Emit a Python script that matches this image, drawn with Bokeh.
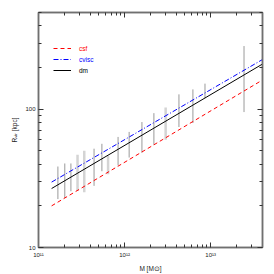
from bokeh.plotting import figure
from bokeh.models import LogAxis, FixedTicker, Legend, LegendItem, Range1d
from bokeh.embed import file_html
from bokeh.resources import INLINE

# ---- data ----
# error bars (dark gray)
bar_mass = [1.68e11, 2.02e11, 2.38e11, 4.42e11, 5.45e11, 8.40e11, 1.13e12,
            1.59e12, 2.19e12, 4.28e12, 6.22e12, 8.59e12, 2.44e13]
bar_lo = [22.4, 22.8, 25.5, 27.9, 35.6, 39.2, 44.7, 48.5, 55.3, 74.3, 79.4, 120.0, 95.3]
bar_hi = [38.5, 40.5, 40.5, 51.8, 56.2, 63.0, 68.5, 80.7, 93.6, 128.0, 139.0, 153.0, 286.0]
# error bars (light gray)
light_mass = [2.84e11, 3.40e11, 6.43e11, 3.00e12]
light_lo = [25.6, 25.1, 33.8, 60.1]
light_hi = [46.9, 50.1, 46.1, 103.0]
# power-law fits
line_mass = [1.42e11, 4.0e13]
r_csf = [20.0, 162.6]
r_cvisc = [29.7, 228.6]
r_dm = [26.7, 212.0]

x_major = [1e11, 1e12, 1e13]
x_major_labels = ["10¹¹", "10¹²", "10¹³"]
y_major = [10, 100]
y_major_labels = ["10", "100"]

x_minor = [m * d for d in (1e11, 1e12, 1e13) for m in range(2, 10)]
y_minor = [m * d for d in (10, 100) for m in range(2, 10)]

FONT = "Liberation Sans"
AX = "#707070"
TXT = "#222222"

p = figure(width=274, height=274, x_axis_type="log", y_axis_type="log",
           x_range=Range1d(1e11, 4e13), y_range=Range1d(10, 500),
           output_backend="svg", toolbar_location=None,
           min_border_left=38, min_border_right=12, min_border_top=12, min_border_bottom=25,
           background_fill_color="white", border_fill_color="white",
           outline_line_color=AX, outline_line_width=1.5)
p.grid.visible = False

def style_axis(ax, ticks, minors, labels=None):
    ax.ticker = FixedTicker(ticks=ticks, minor_ticks=minors)
    ax.major_tick_in = 5
    ax.major_tick_out = 0
    ax.minor_tick_in = 3
    ax.minor_tick_out = 0
    ax.axis_line_color = AX
    ax.axis_line_width = 1.5
    ax.major_tick_line_color = "#333333"
    ax.minor_tick_line_color = "#333333"
    if labels is None:
        ax.major_label_overrides = {t: "" for t in ticks}
        ax.major_label_text_font_size = "0px"
        ax.major_label_standoff = 0
    else:
        ax.major_label_overrides = {t: l for t, l in zip(ticks, labels)}
        ax.major_label_text_font = FONT
        ax.major_label_text_font_size = "6px"
        ax.major_label_text_color = TXT
        ax.axis_label_text_font = FONT
        ax.axis_label_text_font_size = "6.5px"
        ax.axis_label_text_font_style = "normal"
        ax.axis_label_text_color = TXT

style_axis(p.xaxis[0], x_major, x_minor, x_major_labels)
style_axis(p.yaxis[0], y_major, y_minor, y_major_labels)
p.xaxis[0].major_label_standoff = 4
p.xaxis[0].axis_label = "M [M⊙]"
p.xaxis[0].axis_label_standoff = 4
p.yaxis[0].major_label_standoff = 3
p.yaxis[0].axis_label = "Rᵥᵢᵣ [kpc]"
p.yaxis[0].axis_label_standoff = 4

top = LogAxis()
style_axis(top, x_major, x_minor)
p.add_layout(top, "above")
right = LogAxis()
style_axis(right, y_major, y_minor)
p.add_layout(right, "right")

# error bars
p.segment(x0=light_mass, y0=light_lo, x1=light_mass, y1=light_hi,
          line_color="#d4d4d4", line_width=2.5)
p.segment(x0=bar_mass, y0=bar_lo, x1=bar_mass, y1=bar_hi,
          line_color="#9a9a9a", line_width=1)

r1 = p.line(line_mass, r_csf, line_color="red", line_width=1, line_dash="4 3")
r2 = p.line(line_mass, r_cvisc, line_color="blue", line_width=1, line_dash="5 2 1 2")
r3 = p.line(line_mass, r_dm, line_color="black", line_width=1)

def add_leg(label, rend, color, ypos):
    lg = Legend(items=[LegendItem(label=label, renderers=[rend])],
                location=(15, ypos), padding=0, margin=0, spacing=0,
                glyph_width=18, glyph_height=8, label_standoff=8,
                label_text_font=FONT, label_text_font_size="6.5px",
                label_text_color=color, label_height=8,
                border_line_alpha=0, background_fill_alpha=0)
    p.add_layout(lg, "center")

add_leg("csf", r1, "red", 195)
add_leg("cvisc", r2, "blue", 184)
add_leg("dm", r3, "black", 173)

open("out.html", "w").write(file_html(p, INLINE))
